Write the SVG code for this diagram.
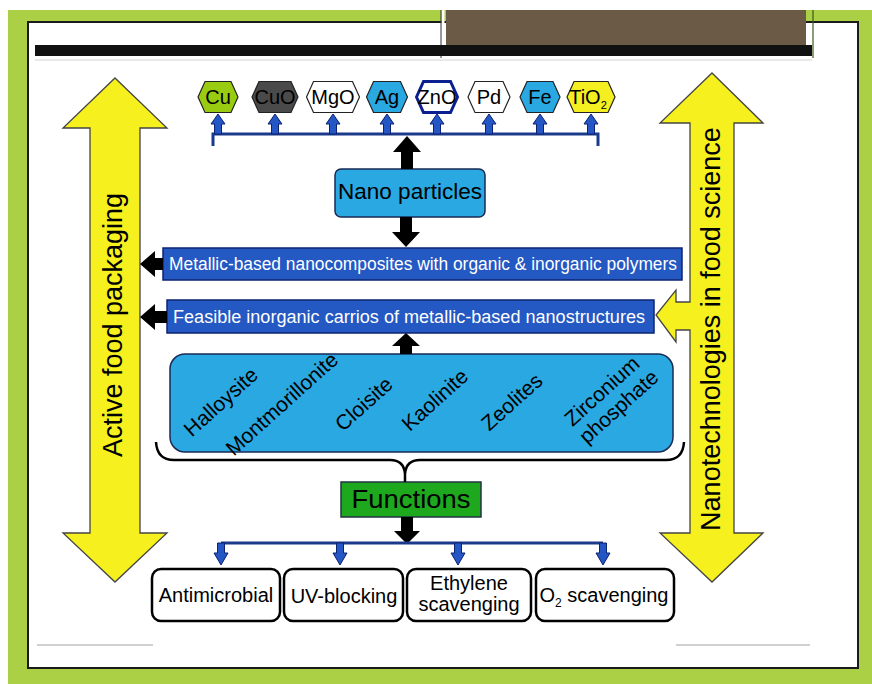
<svg xmlns="http://www.w3.org/2000/svg" xmlns:xlink="http://www.w3.org/1999/xlink" width="872" height="684" viewBox="0 0 872 684">
<style>
  text { font-family: "Liberation Sans", Arial, sans-serif; fill: #000; }
  .hex { stroke: #222; stroke-width: 1.2; }
  .hext { font-size: 20px; text-anchor: middle; }
  .bar { fill: #2458c2; stroke: #0c2470; stroke-width: 1.5; }
  .bart { font-size: 17.5px; fill: #fff; text-anchor: middle; }
  .lb { fill: #2aa8e2; stroke: #1a2a55; stroke-width: 1.5; }
  .clay { font-size: 21px; text-anchor: middle; }
  .fn { fill: #fff; stroke: #000; stroke-width: 2.5; }
  .fnt { font-size: 20px; text-anchor: middle; }
  .yarrow { fill: #f5f01e; stroke: #444; stroke-width: 1.3; }
  .yt { font-size: 27px; text-anchor: middle; }
  .blk { fill: #000; }
  .blue { fill: #2456c4; stroke: #0d2272; stroke-width: 1; }
  .bline { fill: none; stroke: #1b3a8c; stroke-width: 3; }
</style>
<defs>
  <path id="upSmall" d="M-3.5,20 V10 H-7 L0,0 L7,10 H3.5 V20 Z"/>
  <path id="downSmall" d="M-3.5,0 V10 H-7 L0,22 L7,10 H3.5 V0 Z"/>
</defs>

<!-- background frame -->
<g id="frame">
  <rect x="0" y="0" width="872" height="684" fill="#fff"/>
  <rect x="8" y="10" width="864" height="674" fill="#acd045"/>
  <rect x="28" y="22" width="830" height="646" fill="#fff" stroke="#1a1a1a" stroke-width="2"/>
  <rect x="446" y="10" width="360" height="36" fill="#6b5a45"/>
  <line x1="443" y1="10" x2="443" y2="58" stroke="#fff" stroke-width="3"/>
  <line x1="441" y1="10" x2="441" y2="58" stroke="#333" stroke-width="1"/>
  <line x1="813" y1="10" x2="813" y2="58" stroke="#3a5a1a" stroke-width="1.2"/>
  <rect x="35" y="45" width="777" height="11" fill="#111"/>
  <line x1="35" y1="60" x2="812" y2="60" stroke="#e2e2e2" stroke-width="1.5"/>
  <line x1="37" y1="645" x2="153" y2="645" stroke="#d0d0d0" stroke-width="2"/>
  <line x1="676" y1="645" x2="810" y2="645" stroke="#d0d0d0" stroke-width="2"/>
</g>

<!-- side yellow arrows -->
<g id="active-food-packaging">
  <polygon class="yarrow" points="115,78 167,128 140,128 140,533 167,533 115,582 63,533 90,533 90,128 63,128"/>
  <text class="yt" transform="translate(122,325) rotate(-90)" x="0" y="0">Active food packaging</text>
</g>
<g id="nanotechnologies">
  <polygon class="yarrow" points="712,73 763,123 734,123 734,533 763,533 712,582 660,533 690,533 690,330 676,330 676,342 656,315 676,290 676,302 690,302 690,123 660,123"/>
  <text class="yt" transform="translate(720,329) rotate(-90)" x="0" y="0">Nanotechnologies in food science</text>
</g>

<!-- nanoparticle hexagons -->
<g id="hex-Cu"><polygon class="hex" fill="#99cc11" points="198,97 205,81.5 231,81.5 238,97 231,112.5 205,112.5"/><text class="hext" x="218" y="104">Cu</text></g>
<g id="hex-CuO"><polygon class="hex" fill="#4a4a4a" points="252,97 259,81.5 291,81.5 298,97 291,112.5 259,112.5"/><text class="hext" x="275" y="104">CuO</text></g>
<g id="hex-MgO"><polygon class="hex" fill="#fff" points="306.5,97 313.5,81.5 352.5,81.5 359.5,97 352.5,112.5 313.5,112.5"/><text class="hext" x="333" y="104">MgO</text></g>
<g id="hex-Ag"><polygon class="hex" fill="#2aa8e2" points="366.5,97 373.5,81.5 400.5,81.5 407.5,97 400.5,112.5 373.5,112.5"/><text class="hext" x="387" y="104">Ag</text></g>
<g id="hex-ZnO"><polygon fill="#fff" stroke="#0b1f8f" stroke-width="3" points="416.5,97 423.5,81.5 450.5,81.5 457.5,97 450.5,112.5 423.5,112.5"/><text class="hext" x="437" y="104">ZnO</text></g>
<g id="hex-Pd"><polygon class="hex" fill="#fff" points="468,97 475,81.5 503,81.5 510,97 503,112.5 475,112.5"/><text class="hext" x="489" y="104">Pd</text></g>
<g id="hex-Fe"><polygon class="hex" fill="#2aa8e2" points="520,97 527,81.5 553,81.5 560,97 553,112.5 527,112.5"/><text class="hext" x="540" y="104">Fe</text></g>
<g id="hex-TiO2"><polygon class="hex" fill="#f5ee20" points="567,97 574,81.5 608,81.5 615,97 608,112.5 574,112.5"/><text class="hext" x="588" y="104">TiO<tspan font-size="11" dy="5">2</tspan></text></g>

<!-- main nodes -->
<g id="nano-particles">
  <rect class="lb" x="335" y="169" width="150" height="48" rx="6"/>
  <text x="410" y="199" font-size="21.5" text-anchor="middle" textLength="144" lengthAdjust="spacingAndGlyphs">Nano particles</text>
</g>
<g id="metallic-nanocomposites">
  <rect class="bar" x="163" y="248" width="519" height="32"/>
  <text class="bart" x="423" y="270" textLength="508" lengthAdjust="spacingAndGlyphs">Metallic-based nanocomposites with organic &amp; inorganic polymers</text>
</g>
<g id="inorganic-carriers">
  <rect class="bar" x="167" y="300" width="487" height="33"/>
  <text class="bart" x="409" y="323" textLength="472" lengthAdjust="spacingAndGlyphs">Feasible inorganic carrios of metallic-based nanostructures</text>
</g>
<g id="clays">
  <rect class="lb" x="170" y="354" width="503" height="98" rx="15"/>
  <text class="clay" transform="translate(221,402) rotate(-42)" y="7">Halloysite</text>
  <text class="clay" transform="translate(282,404) rotate(-42)" y="7">Montmorillonite</text>
  <text class="clay" transform="translate(364,404) rotate(-42)" y="7">Cloisite</text>
  <text class="clay" transform="translate(435,400) rotate(-42)" y="7">Kaolinite</text>
  <text class="clay" transform="translate(512,402) rotate(-42)" y="7">Zeolites</text>
  <text class="clay" transform="translate(610,400) rotate(-42)"><tspan x="0" y="-5">Zirconium</tspan><tspan x="2" y="18">phosphate</tspan></text>
</g>
<g id="functions">
  <rect x="341" y="482" width="140" height="35" fill="#1ea81e" stroke="#234" stroke-width="1.5"/>
  <text x="411" y="508" font-size="25" text-anchor="middle" textLength="119" lengthAdjust="spacingAndGlyphs">Functions</text>
</g>
<g id="antimicrobial">
  <rect class="fn" x="152" y="569" width="128" height="52" rx="9"/>
  <text class="fnt" x="216" y="602">Antimicrobial</text>
</g>
<g id="uv-blocking">
  <rect class="fn" x="284" y="569" width="119" height="52" rx="9"/>
  <text class="fnt" x="344" y="603">UV-blocking</text>
</g>
<g id="ethylene-scavenging">
  <rect class="fn" x="407" y="569" width="124" height="52" rx="9"/>
  <text class="fnt" x="469" y="590">Ethylene</text>
  <text class="fnt" x="469" y="611">scavenging</text>
</g>
<g id="o2-scavenging">
  <rect class="fn" x="536" y="569" width="138" height="52" rx="9"/>
  <text class="fnt" x="604" y="602">O<tspan font-size="12" dy="5">2</tspan><tspan dy="-5"> scavenging</tspan></text>
</g>

<!-- connectors -->
<g id="connectors">
  <path class="bline" d="M213,146 V134 H598 V146"/>
  <use xlink:href="#upSmall" class="blue" x="218" y="114"/>
  <use xlink:href="#upSmall" class="blue" x="275" y="114"/>
  <use xlink:href="#upSmall" class="blue" x="333" y="114"/>
  <use xlink:href="#upSmall" class="blue" x="387" y="114"/>
  <use xlink:href="#upSmall" class="blue" x="437" y="114"/>
  <use xlink:href="#upSmall" class="blue" x="489" y="114"/>
  <use xlink:href="#upSmall" class="blue" x="540" y="114"/>
  <use xlink:href="#upSmall" class="blue" x="591" y="114"/>
  <polygon class="blk" points="401,169 401,152 393,152 407,136 421,152 413,152 413,169"/>
  <polygon class="blk" points="400,217 412,217 412,232 420,232 406,247 392,232 400,232"/>
  <polygon class="blk" points="163,258 155,258 155,251 140,264 155,277 155,270 163,270"/>
  <polygon class="blk" points="167,311 155,311 155,304 140,317 155,330 155,323 167,323"/>
  <polygon class="blk" points="400,354 400,346 392,346 406,333 420,346 412,346 412,354"/>
  <polygon class="blk" points="401,517 413,517 413,531 420,531 407,544 394,531 401,531"/>
  <path d="M156,442 Q157,460 174,460 L390,460 Q404,460 405,474 Q406,460 420,460 L666,460 Q683,460 684,442 M405,474 V482" fill="none" stroke="#000" stroke-width="2.5"/>
  <path class="bline" d="M221,543 H603"/>
  <use xlink:href="#downSmall" class="blue" x="221" y="543"/>
  <use xlink:href="#downSmall" class="blue" x="340" y="543"/>
  <use xlink:href="#downSmall" class="blue" x="458" y="543"/>
  <use xlink:href="#downSmall" class="blue" x="603" y="543"/>
</g>
</svg>
